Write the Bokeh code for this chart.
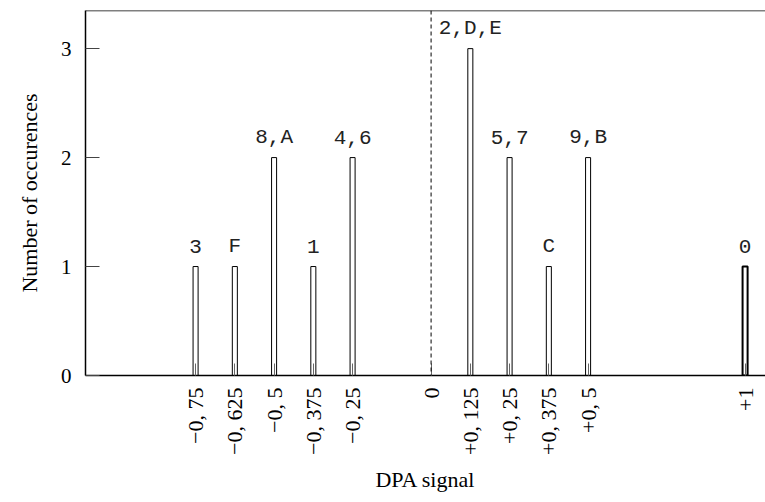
import math
from bokeh.plotting import figure
from bokeh.models import ColumnDataSource, Range1d, FixedTicker, Span
from bokeh.core.properties import value
from bokeh.embed import file_html
from bokeh.resources import INLINE

# ---- data ----
signal = [-0.75, -0.625, -0.5, -0.375, -0.25, 0.125, 0.25, 0.375, 0.5, 1.0]
counts = [1, 1, 2, 1, 2, 3, 2, 1, 2, 1]
bar_labels = ["3", "F", "8,A", "1", "4,6", "2,D,E", "5,7", "C", "9,B", "0"]

tick_values = [-0.75, -0.625, -0.5, -0.375, -0.25, 0, 0.125, 0.25, 0.375, 0.5, 1]
tick_labels = ["\u22120, 75", "\u22120, 625", "\u22120, 5", "\u22120, 375", "\u22120, 25",
               "0", "+0, 125", "+0, 25", "+0, 375", "+0, 5", "+1"]
y_ticks = [0, 1, 2, 3]

SERIF = "'Liberation Serif'"
MONO = "'Liberation Mono'"

src = ColumnDataSource(dict(
    x=signal, top=counts, label=bar_labels,
    label_y=[c + 0.185 for c in counts],
    lw=[2 if s == 1.0 else 1 for s in signal],
))

p = figure(width=765, height=494, output_backend="svg", toolbar_location=None,
           x_range=Range1d(-1.1006, 1.065), y_range=Range1d(0, 3.35),
           min_border_left=85, min_border_right=0, min_border_top=10,
           min_border_bottom=10)
p.outline_line_color = None
p.grid.visible = False
p.background_fill_color = "white"
p.border_fill_color = "white"

p.vbar(x="x", top="top", bottom=0, width=0.016, source=src,
       fill_color="white", line_color="black", line_width="lw")

p.text(x="x", y="label_y", text="label", source=src,
       text_font=value(MONO), text_font_size="21px", text_align="center",
       text_baseline="alphabetic", text_color="#222222")

# dashed zero line and top border
p.add_layout(Span(location=0, dimension="height", line_color="black",
                  line_dash="4 3", line_width=1))
p.add_layout(Span(location=3.35, dimension="width", line_color="black",
                  line_width=1.5))

# x axis
xa = p.xaxis[0]
xa.ticker = FixedTicker(ticks=tick_values)
xa.major_label_overrides = {v: t for v, t in zip(tick_values, tick_labels)}
xa.major_label_orientation = math.pi / 2
xa.major_label_text_font = SERIF
xa.major_label_text_font_size = "22px"
xa.major_label_text_color = "black"
xa.major_label_standoff = 12
xa.major_tick_in = 12
xa.major_tick_out = 0
xa.major_tick_line_color = "#666666"
xa.minor_tick_line_color = None
xa.axis_line_width = 1.5
xa.axis_line_color = "black"
xa.axis_label = "DPA signal"
xa.axis_label_text_font = SERIF
xa.axis_label_text_font_size = "22px"
xa.axis_label_text_font_style = "normal"
xa.axis_label_text_color = "black"
xa.axis_label_standoff = 9

# y axis
ya = p.yaxis[0]
ya.ticker = FixedTicker(ticks=y_ticks)
ya.major_label_text_font = SERIF
ya.major_label_text_font_size = "21px"
ya.major_label_text_color = "black"
ya.major_label_standoff = 14
ya.major_tick_in = 14
ya.major_tick_out = 0
ya.major_tick_line_color = "#444444"
ya.minor_tick_line_color = None
ya.axis_line_width = 1.5
ya.axis_line_color = "black"
ya.axis_label = "Number of occurences"
ya.axis_label_text_font = SERIF
ya.axis_label_text_font_size = "22px"
ya.axis_label_text_font_style = "normal"
ya.axis_label_text_color = "black"
ya.axis_label_standoff = 16

open("out.html", "w").write(file_html(p, INLINE))
